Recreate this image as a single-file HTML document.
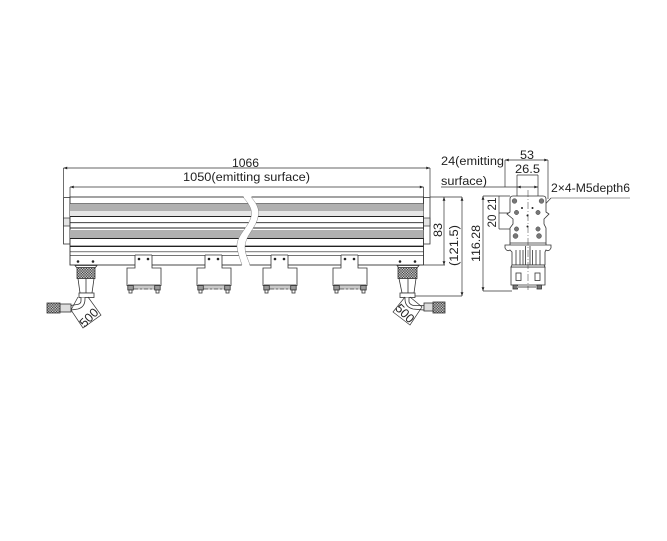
<!DOCTYPE html>
<html><head><meta charset="utf-8"><style>
html,body{margin:0;padding:0;background:#fff}
svg{display:block;filter:blur(.25px)}
text{font-family:"Liberation Sans",Arial,sans-serif;fill:#222;font-size:12.2px}
</style></head><body>
<svg width="667" height="541" viewBox="0 0 667 541" xmlns="http://www.w3.org/2000/svg">
<defs>
<pattern id="kn" width="2.6" height="2.6" patternUnits="userSpaceOnUse"><rect width="2.6" height="2.6" fill="#ccc"/><rect width="1.3" height="1.3" fill="#444"/><rect x="1.3" y="1.3" width="1.3" height="1.3" fill="#444"/></pattern>
<marker id="a" viewBox="0 0 8 6" refX="8" refY="3" markerWidth="5" markerHeight="2.8" orient="auto-start-reverse" markerUnits="userSpaceOnUse"><path d="M0 0L8 3L0 6z" fill="#222"/></marker>
<g id="br" fill="none" stroke="#333" stroke-width=".8">
<path d="M8 -16.500V-3.500H0V14H34V-3.500H25V-16.500" fill="#fff"/>
<path d="M8 -16.500H25" stroke="#333" stroke-width=".7"/>
<circle cx="12" cy="-12.500" r="1.300" fill="#222" stroke="none"/>
<circle cx="21" cy="-12.500" r="1.300" fill="#222" stroke="none"/>
<rect x="1" y="13.500" width="32" height="3.500" fill="#c8c8c8" stroke="none"/>
<path d="M1 13.500H33" stroke-width=".7"/>
<rect x="0.800" y="14" width="5.500" height="4.500" fill="#999"/>
<rect x="27.700" y="14" width="5.500" height="4.500" fill="#999"/>
<rect x="2" y="18.500" width="3" height="3" fill="#fff"/>
<rect x="29" y="18.500" width="3" height="3" fill="#fff"/>
<path d="M6.500 17.500H27.500" stroke-width=".8" stroke-dasharray="5 1 3 1"/>
</g>
</defs>

<!-- end caps -->
<rect x="63.500" y="197.500" width="6.500" height="46.500" fill="#fff" stroke="#333" stroke-width=".8"/>
<rect x="63.500" y="218" width="6.500" height="8" fill="#e4e4e4" stroke="#333" stroke-width=".7"/>
<rect x="423.500" y="197.500" width="6.500" height="46.500" fill="#fff" stroke="#333" stroke-width=".8"/>
<rect x="423.500" y="218" width="6.500" height="8" fill="#e4e4e4" stroke="#333" stroke-width=".7"/>

<!-- main bar -->
<rect x="70" y="197" width="353.500" height="68" fill="#fff" stroke="#333" stroke-width=".9"/>
<rect x="70" y="203.500" width="353.500" height="7.500" fill="#b0b0b0"/>
<rect x="70" y="211" width="353.500" height="5" fill="#e6e6e6"/>
<rect x="70" y="230" width="353.500" height="8" fill="#b0b0b0"/>
<g stroke="#222" fill="none">
<path d="M70 203.500H423.500" stroke-width=".6"/>
<path d="M70 216.500H423.500" stroke-width="1"/>
<path d="M70 222.700H423.500" stroke-width=".9"/>
<path d="M70 228H423.500" stroke-width=".9"/>
<path d="M70 238.500H423.500" stroke-width="1"/>
<path d="M70 246.300H423.500" stroke-width="1.300"/>
<path d="M70 251.800H423.500" stroke-width=".7"/>
<path d="M70 255.300H423.500" stroke-width=".7"/>
</g>
<!-- break -->
<path d="M243 196 C249 204 253 210 251 217 C248 228 236 236 237 247 C238 254 240 259 242 266 L250 266 C248 259 245 254 245 247 C245 236 256 228 258 217 C260 210 257 204 251 196Z" fill="#fff"/>
<path d="M243 197 C249 204 253 210 251 217 C248 228 236 236 237 247 C238 254 240 259 242 265" fill="none" stroke="#666" stroke-width=".4"/>
<path d="M251 197 C257 204 260 210 258 217 C256 228 245 236 245 247 C245 254 248 259 250 265" fill="none" stroke="#666" stroke-width=".4"/>

<!-- brackets -->
<use href="#br" x="127" y="271.500"/>
<use href="#br" x="197" y="271.500"/>
<use href="#br" x="263" y="271.500"/>
<use href="#br" x="333" y="271.500"/>

<!-- left connector -->
<g stroke="#333" fill="#fff" stroke-width=".8">
<path d="M75 265.500H97L95 268H77Z"/>
<circle cx="78" cy="261.500" r="1.300" fill="#222" stroke="none"/>
<circle cx="93" cy="261.500" r="1.300" fill="#222" stroke="none"/>
<rect x="77" y="267.500" width="18" height="11" fill="url(#kn)"/>
<path d="M78 278.500H94L92 293H80Z"/>
<path d="M86 278.500V293"/>
<rect x="79" y="293" width="15" height="4.500"/>
<path d="M81 297.500V301Q81 304 77 304.500L71 305.500V310L78 309Q85 307 85 299V297.500"/>
<rect x="60" y="304" width="11" height="8" fill="#ddd"/>
<rect x="47" y="303" width="13" height="10" fill="url(#kn)"/>
</g>
<!-- right connector -->
<g stroke="#333" fill="#fff" stroke-width=".8">
<path d="M397 265.500H419L417 268H399Z"/>
<circle cx="400" cy="261.500" r="1.300" fill="#222" stroke="none"/>
<circle cx="415" cy="261.500" r="1.300" fill="#222" stroke="none"/>
<rect x="398" y="267.500" width="19" height="11" fill="url(#kn)"/>
<path d="M399 278.500H416L414 293H402Z"/>
<path d="M408 278.500V293"/>
<rect x="400" y="293" width="15" height="4.500"/>
<path d="M409 297.500V302Q410 305 414 305.500L424 305.500V310L413 309Q405 307 405 299V297.500"/>
<rect x="424" y="303" width="9" height="8" fill="#ddd"/>
<rect x="433" y="302" width="12" height="11" fill="url(#kn)"/>
</g>

<!-- 500 dims -->
<g fill="none" stroke="#333" stroke-width=".7">
<path d="M78 297L71 310L83 328L101 315L88 297"/>
<path d="M405 297L393 312L410 325L422 307L410 297"/>
</g>
<text transform="translate(84.500,328) rotate(-45)" style="font-size:12.500px">500</text>
<text transform="translate(394.500,309) rotate(45)" style="font-size:12.500px">500</text>

<!-- dim lines -->
<g stroke="#333" stroke-width=".7" fill="none">
<path d="M63.500 168H430" marker-start="url(#a)" marker-end="url(#a)"/>
<path d="M63.500 168V197M430 168V197"/>
<path d="M70 187H423.500" marker-start="url(#a)" marker-end="url(#a)"/>
<path d="M70 187V197M423.500 187V197"/>
<path d="M430 197H462M424 265H445"/>
<path d="M444 197V265" marker-start="url(#a)" marker-end="url(#a)"/>
<path d="M462 197V296" marker-start="url(#a)" marker-end="url(#a)"/>
<path d="M415 296H462"/>
<path d="M441 187H520"/>
<path d="M505 160V187"/>
<path d="M505 160H548" marker-start="url(#a)" marker-end="url(#a)"/>
<path d="M548 160V199"/>
<path d="M517 175H538"/>
<path d="M517 175V197M538 175V197"/>
<path d="M517 187H538" marker-start="url(#a)" marker-end="url(#a)"/>
<path d="M483 196V291" marker-start="url(#a)" marker-end="url(#a)"/>
<path d="M483 196H510M483 291H512"/>
<path d="M499 196V229"/>
<path d="M499 213H510M499 229H512"/>
<path d="M551 198H630" stroke="#777"/>
<path d="M551 198L538 212"/>
</g>

<!-- side view -->
<g stroke="#333" fill="#fff" stroke-width=".8">
<path d="M513 196H543Q546 196 546 199V212L549 214 544 219V224L546 228V243H510V228L513 224V219L507 214 510 212V199Q510 196 513 196Z"/>
<path d="M505 245H551V248Q549 252 546 250L545 252V265H512V252L510 250Q507 252 505 248Z"/>
<path d="M510 243V245M546 243V245"/>
<path d="M516 250V265M520 250V265M523 250V265M525.500 246V265M530 246V265M532.500 250V265M536 250V265M540 250V265"/>
<path d="M511 267H545V285H511Z"/>
<path d="M512 265H544L545 267H511Z"/>
<rect x="516" y="273" width="5" height="7.500"/>
<rect x="535" y="273" width="5" height="7.500"/>
<rect x="513" y="285" width="4.500" height="4" fill="#777"/>
<rect x="537" y="285" width="4.500" height="4" fill="#777"/>
<path d="M517 287H537" stroke-width="2" stroke="#aaa"/>
<path d="M528 190V290" stroke-dasharray="7 2 1 2" stroke-width=".5"/>
</g>
<g fill="#777" stroke="#333" stroke-width=".4">
<circle cx="514.500" cy="201" r="2.400"/><circle cx="541.500" cy="201" r="2.400"/>
<circle cx="516.500" cy="212.500" r="2.200"/><circle cx="538" cy="212.500" r="2.200"/>
<circle cx="516.500" cy="229" r="2.200"/><circle cx="538" cy="229" r="2.200"/>
<circle cx="515.500" cy="236" r="2.500"/><circle cx="539" cy="236" r="2.500"/>
</g>
<g fill="#222">
<circle cx="522" cy="208" r="1"/><circle cx="532.500" cy="208" r="1"/>
<circle cx="527.500" cy="215.500" r="1"/><circle cx="527.500" cy="226.500" r="1"/>
</g>

<!-- labels -->
<text x="232" y="167" textLength="27" lengthAdjust="spacingAndGlyphs">1066</text>
<text x="183" y="181" textLength="127" lengthAdjust="spacingAndGlyphs">1050(emitting surface)</text>
<text x="441" y="165" textLength="63" lengthAdjust="spacingAndGlyphs">24(emitting</text>
<text x="441" y="185" textLength="46" lengthAdjust="spacingAndGlyphs">surface)</text>
<text x="520" y="159" textLength="14" lengthAdjust="spacingAndGlyphs">53</text>
<text x="515" y="173" textLength="25" lengthAdjust="spacingAndGlyphs">26.5</text>
<text x="551" y="192" textLength="79" lengthAdjust="spacingAndGlyphs" style="font-size:11.500px">2×4-M5depth6</text>
<text transform="translate(442,237) rotate(-90)" textLength="14" lengthAdjust="spacingAndGlyphs">83</text>
<text transform="translate(458,266) rotate(-90)" textLength="41" lengthAdjust="spacingAndGlyphs">(121.5)</text>
<text transform="translate(480,262) rotate(-90)" textLength="37" lengthAdjust="spacingAndGlyphs">116.28</text>
<text transform="translate(496,210.500) rotate(-90)" textLength="13" lengthAdjust="spacingAndGlyphs">21</text>
<text transform="translate(496,227.500) rotate(-90)" textLength="13" lengthAdjust="spacingAndGlyphs">20</text>
</svg>
</body></html>
